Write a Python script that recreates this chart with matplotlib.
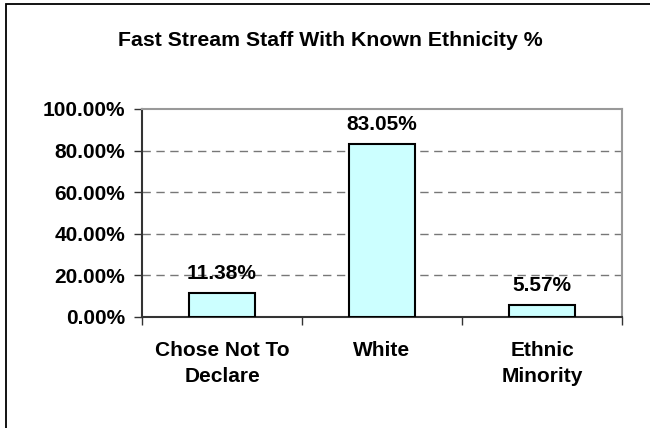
import matplotlib.pyplot as plt
from matplotlib.patches import Rectangle
from matplotlib.ticker import FuncFormatter

categories = ["Chose Not To\nDeclare", "White", "Ethnic\nMinority"]
values = [11.38, 83.05, 5.57]
yticks = [0, 20, 40, 60, 80, 100]

plt.rcParams['font.family'] = ['Liberation Sans', 'DejaVu Sans']
plt.rcParams['font.weight'] = 'bold'

W, H = 650, 428
fig = plt.figure(figsize=(6.5, 4.28), dpi=100)

# outer chart border (runs off the right and bottom edges)
fig.patches.append(Rectangle((6 / W, 0 - 0.05), 1.1, (H - 4) / H + 0.05,
                             transform=fig.transFigure, fill=False,
                             edgecolor='black', linewidth=1.3))

ax = fig.add_axes([142 / W, 1 - 317 / H, 480 / W, 208 / H])

x = range(len(categories))
ax.bar(x, values, width=0.41, color='#ccffff', edgecolor='black', linewidth=1.5, zorder=3)

for xi, v in zip(x, values):
    ax.text(xi, v + 7, f"{v:.2f}%", ha='center', va='baseline', fontsize=15, fontweight='bold')

ax.set_xlim(-0.5, len(categories) - 0.5)
ax.set_ylim(0, 100)
ax.set_yticks(yticks)
ax.yaxis.set_major_formatter(FuncFormatter(lambda v, p: f"{v:.2f}%"))
ax.tick_params(axis='y', labelsize=15, length=6, width=1, color='#333333', direction='out', pad=6)

ax.set_xticks([i - 0.5 for i in range(len(categories) + 1)], minor=False)
ax.set_xticklabels([])
ax.tick_params(axis='x', length=6, width=1, color='#333333', direction='out')
for xi, c in zip(x, categories):
    ax.text(xi, -11.5, c, ha='center', va='top', fontsize=15, fontweight='bold',
            linespacing=1.5, transform=ax.transData)

for g in yticks[1:-1]:
    ax.axhline(g, color='#777777', linestyle=(0, (6, 4)), linewidth=1, zorder=1)

ax.spines['left'].set_color('#333333')
ax.spines['bottom'].set_color('#333333')
ax.spines['top'].set_color('#999999')
ax.spines['right'].set_color('#999999')
for s in ax.spines.values():
    s.set_linewidth(1.5)

fig.text(330 / W, 1 - 40 / H, "Fast Stream Staff With Known Ethnicity %",
         ha='center', va='center', fontsize=15.3, fontweight='bold')

fig.savefig("out.png", dpi=100)
